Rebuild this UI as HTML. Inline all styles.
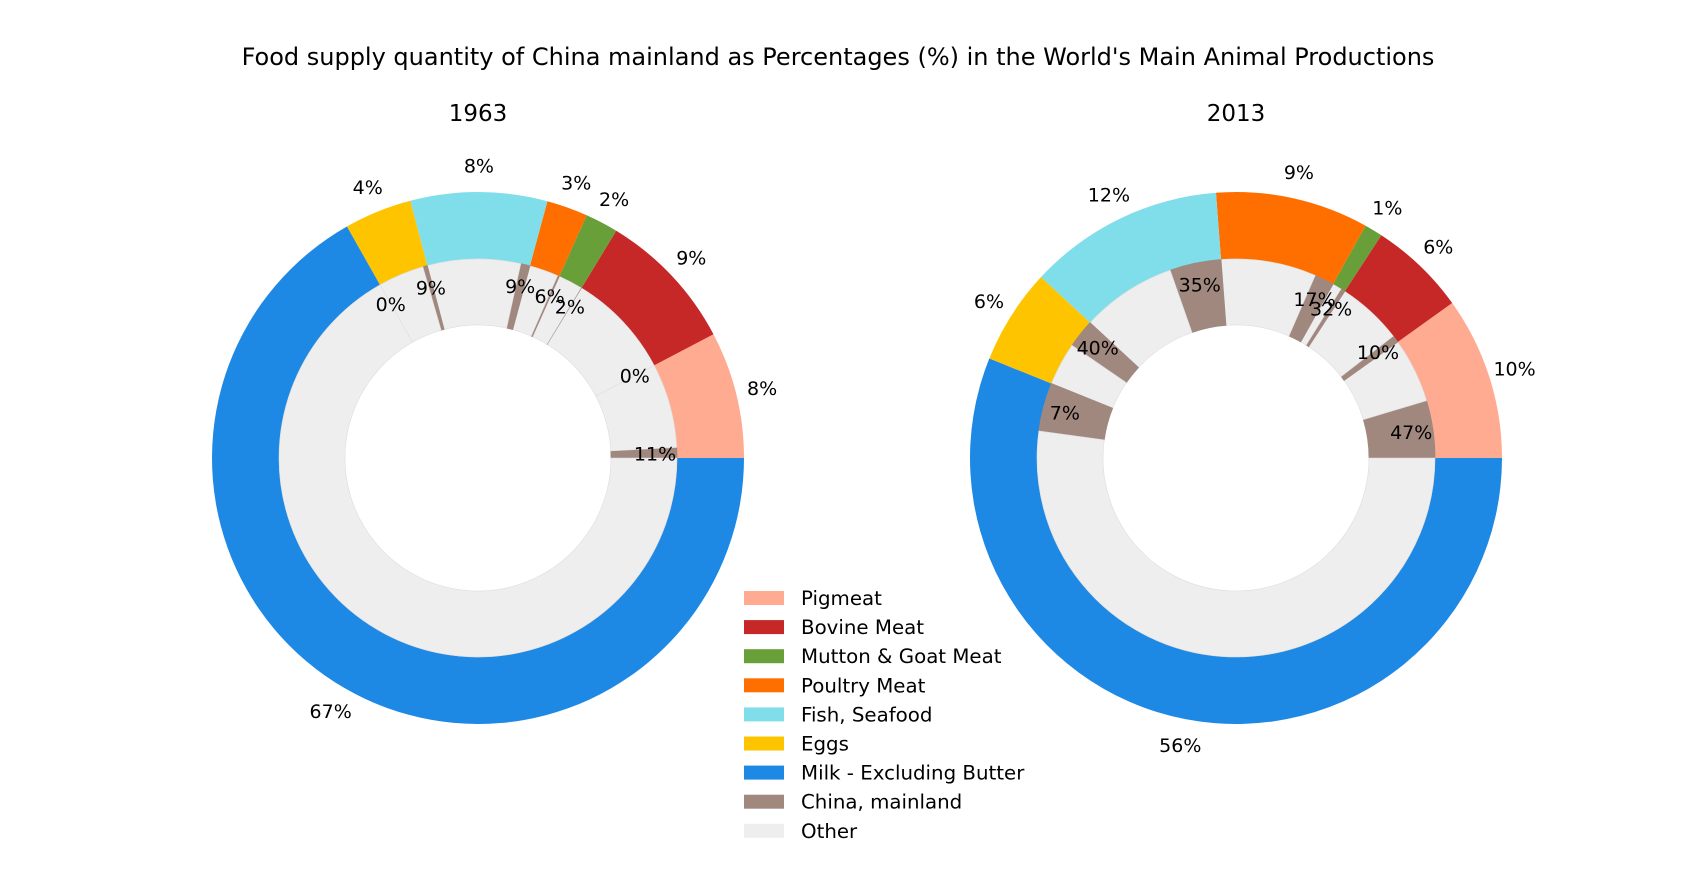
<!DOCTYPE html>
<html><head><meta charset="utf-8">
<style>
html,body{margin:0;padding:0;background:#fff;}
svg{display:block;font-family:"DejaVu Sans","Liberation Sans",sans-serif;}
</style></head>
<body>
<svg id="chart" width="1699" height="892" viewBox="0 0 1699 892" xmlns="http://www.w3.org/2000/svg">
<text x="838" y="65" font-size="24" text-anchor="middle">Food supply quantity of China mainland as Percentages (%) in the World's Main Animal Productions</text>
<text x="478" y="121" font-size="23" text-anchor="middle">1963</text>
<text x="1236" y="121" font-size="23" text-anchor="middle">2013</text>
<g id="pies"></g>
<g id="legend"></g>
</svg>
<script>
const categories = ["Pigmeat","Bovine Meat","Mutton & Goat Meat","Poultry Meat","Fish, Seafood","Eggs","Milk - Excluding Butter"];
const colors = ["#FFAB91","#C62828","#689F38","#FF6F00","#80DEEA","#FFC400","#1E88E5"];
const share1963 = [7.7,8.6,2.0,2.5,8.3,4.1,66.8];
const china1963 = [11,0,2,6,9,9,0];
const share2013 = [9.9,5.9,1.1,9.3,11.9,5.8,56.1];
const china2013 = [47,10,32,17,35,40,7];
const chinaColor = "#A1887F", otherColor = "#EEEEEE";
const NS = "http://www.w3.org/2000/svg";
const pies = document.getElementById('pies');

function pt(cx,cy,r,a){const t=a*Math.PI/180;return [cx+r*Math.cos(t), cy-r*Math.sin(t)];}
function wedge(cx,cy,r0,r1,a0,a1){
  const large=(a1-a0)>180?1:0;
  const p1=pt(cx,cy,r1,a0),p2=pt(cx,cy,r1,a1),p3=pt(cx,cy,r0,a1),p4=pt(cx,cy,r0,a0);
  return `M${p1[0]},${p1[1]} A${r1},${r1} 0 ${large} 0 ${p2[0]},${p2[1]} L${p3[0]},${p3[1]} A${r0},${r0} 0 ${large} 1 ${p4[0]},${p4[1]} Z`;
}
function text(x,y,s,name){
  const t=document.createElementNS(NS,'text');
  t.setAttribute('x',x);t.setAttribute('y',y+7);
  t.setAttribute('font-size','19');t.setAttribute('text-anchor','middle');
  t.textContent=s;
  
  
  pies.appendChild(t);
}
function drawPie(cx,cy,shares,china,tag){
  const R=266, Ri=199, Rh=133;
  const total=shares.reduce((a,b)=>a+b,0);
  let a=0;
  shares.forEach((v,i)=>{
    const span=v/total*360, a0=a, a1=a+span;
    const p=document.createElementNS(NS,'path');
    p.setAttribute('d',wedge(cx,cy,Ri,R,a0,a1));
    p.setAttribute('fill',colors[i]);
    
    
    pies.appendChild(p);
    const lp=pt(cx,cy,R*1.1,(a0+a1)/2);
    text(lp[0],lp[1],Math.round(v)+'%','outer-label');
    const cs=span*china[i]/100;
    if(cs>0){
      const c=document.createElementNS(NS,'path');
      c.setAttribute('d',wedge(cx,cy,Rh,Ri,a0,a0+cs));
      c.setAttribute('fill',chinaColor);
      c.setAttribute('stroke',chinaColor);c.setAttribute('stroke-width','0.8');
      
      
      pies.appendChild(c);
    }
    const o=document.createElementNS(NS,'path');
    o.setAttribute('d',wedge(cx,cy,Rh,Ri,a0+cs,a1));
    o.setAttribute('fill',otherColor);
    o.setAttribute('stroke','#dddddd');o.setAttribute('stroke-width','0.6');
    
    
    pies.appendChild(o);
    a=a1;
  });
  a=0;
  shares.forEach((v,i)=>{
    const span=v/total*360;
    const cs=span*china[i]/100;
    const lp=pt(cx,cy,Ri*0.89,a+cs/2);
    text(lp[0],lp[1],china[i]+'%','inner-label');
    a+=span;
  });
}
drawPie(478,458,share1963,china1963,'1963');
drawPie(1236,458,share2013,china2013,'2013');

const legendNames = categories.concat(["China, mainland","Other"]);
const legendColors = colors.concat([chinaColor,otherColor]);
const lg=document.getElementById('legend');
legendNames.forEach((n,i)=>{
  const y=598+i*29.1;
  const r=document.createElementNS(NS,'rect');
  r.setAttribute('x',744);r.setAttribute('y',y-7);r.setAttribute('width',40);r.setAttribute('height',14);
  r.setAttribute('fill',legendColors[i]);
  
  
  lg.appendChild(r);
  const t=document.createElementNS(NS,'text');
  t.setAttribute('x',801);t.setAttribute('y',y+7);t.setAttribute('font-size','19.8');
  t.textContent=n;
  
  
  lg.appendChild(t);
});
</script>
</body></html>
